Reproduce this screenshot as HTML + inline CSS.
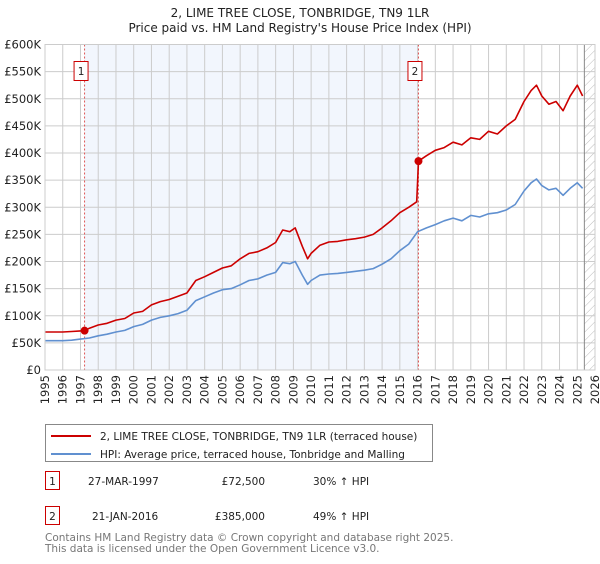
<!DOCTYPE html>
<html><head><meta charset="utf-8"><style>
body{margin:0;background:#fff;font-family:"DejaVu Sans","Liberation Sans",sans-serif;}
svg text{font-family:"DejaVu Sans","Liberation Sans",sans-serif;}
</style></head><body>
<svg id="c" width="600" height="560" xmlns="http://www.w3.org/2000/svg">
<text x="300" y="17" text-anchor="middle" font-size="12" fill="#222">2, LIME TREE CLOSE, TONBRIDGE, TN9 1LR</text>
<text x="300" y="32" text-anchor="middle" font-size="12" fill="#222">Price paid vs. HM Land Registry's House Price Index (HPI)</text>
<defs><pattern id="hatch" width="6" height="6" patternUnits="userSpaceOnUse" patternTransform="rotate(45)"><line x1="0" y1="0" x2="0" y2="6" stroke="#bbb" stroke-width="1"/></pattern></defs>
<g id="plot"></g>
<g>
<rect x="45.5" y="424.5" width="387" height="37" fill="#fff" stroke="#888"/>
<line x1="51" y1="436" x2="91" y2="436" stroke="#cc0000" stroke-width="2"/>
<text x="100" y="440" font-size="10.5" fill="#222">2, LIME TREE CLOSE, TONBRIDGE, TN9 1LR (terraced house)</text>
<line x1="51" y1="454" x2="91" y2="454" stroke="#6090d0" stroke-width="2"/>
<text x="100" y="458" font-size="10.5" fill="#222">HPI: Average price, terraced house, Tonbridge and Malling</text>
</g>
<g font-size="10.5" fill="#222">
<rect x="45.5" y="471.5" width="14" height="18" fill="#fff" stroke="#cc0000"/>
<text x="52.5" y="485" text-anchor="middle">1</text>
<text x="88" y="485">27-MAR-1997</text>
<text x="265" y="485" text-anchor="end">£72,500</text>
<text x="313" y="485">30% ↑ HPI</text>
<rect x="45.5" y="506.5" width="14" height="18" fill="#fff" stroke="#cc0000"/>
<text x="52.5" y="520" text-anchor="middle">2</text>
<text x="92" y="520">21-JAN-2016</text>
<text x="265" y="520" text-anchor="end">£385,000</text>
<text x="313" y="520">49% ↑ HPI</text>
</g>
<text x="45" y="541" font-size="10.5" fill="#777">Contains HM Land Registry data © Crown copyright and database right 2025.</text>
<text x="45" y="552" font-size="10.5" fill="#777">This data is licensed under the Open Government Licence v3.0.</text>
</svg>
<script>
const yTicks=[0,50,100,150,200,250,300,350,400,450,500,550,600];
const yLabels=["£0","£50K","£100K","£150K","£200K","£250K","£300K","£350K","£400K","£450K","£500K","£550K","£600K"];
const xYears=[1995,1996,1997,1998,1999,2000,2001,2002,2003,2004,2005,2006,2007,2008,2009,2010,2011,2012,2013,2014,2015,2016,2017,2018,2019,2020,2021,2022,2023,2024,2025,2026];
const hpiX=[1995,1995.5,1996,1996.5,1997,1997.5,1998,1998.5,1999,1999.5,
 2000,2000.5,2001,2001.5,2002,2002.5,2003,2003.5,2004,2004.5,
 2005,2005.5,2006,2006.5,2007,2007.5,2008,2008.4,2008.8,2009.1,
 2009.5,2009.8,2010,2010.5,2011,2011.5,2012,2012.5,2013,2013.5,
 2014,2014.5,2015,2015.5,2016,2016.5,2017,2017.5,2018,2018.5,
 2019,2019.5,2020,2020.5,2021,2021.5,2022,2022.4,2022.7,2023,
 2023.4,2023.8,2024.2,2024.6,2025,2025.3];
const hpiY=[54,54,54,55,57,59,63,66,70,73,
 80,84,92,97,100,104,110,128,135,142,
 148,150,157,165,168,175,180,198,196,200,
 175,158,165,175,177,178,180,182,184,187,
 195,205,220,232,255,262,268,275,280,275,
 285,282,288,290,295,305,330,345,352,340,
 332,335,322,335,345,335];
const priceX=[1995,1995.5,1996,1996.5,1997,1997.23,1997.5,1998,1998.5,1999,
 1999.5,2000,2000.5,2001,2001.5,2002,2002.5,2003,2003.5,2004,
 2004.5,2005,2005.5,2006,2006.5,2007,2007.5,2008,2008.4,2008.8,
 2009.1,2009.5,2009.8,2010,2010.5,2011,2011.5,2012,2012.5,2013,
 2013.5,2014,2014.5,2015,2015.5,2015.95,2016.05,2016.5,2017,2017.5,
 2018,2018.5,2019,2019.5,2020,2020.5,2021,2021.5,2022,2022.4,
 2022.7,2023,2023.4,2023.8,2024.2,2024.6,2025,2025.3];
const priceY=[70,70,70,71,72,72.5,77,83,86,92,
 95,105,108,120,126,130,136,142,165,172,
 180,188,192,205,215,218,225,235,258,255,
 262,228,205,215,230,236,237,240,242,245,
 250,262,275,290,300,310,385,395,405,410,
 420,415,428,425,440,435,450,462,495,515,
 525,505,490,495,478,505,525,505];
const saleYears=[1997.23,2016.05];
const salePrices=[72.5,385];
</script>
<script>
const NS="http://www.w3.org/2000/svg";
const X0=45,X1=595,Y0=370,Y1=44.5;
const xs=yr=>X0+(yr-1995)*(X1-X0)/31;
const ys=v=>Y0-v*(Y0-Y1)/600;
const g=document.getElementById('plot');
function mk(t,a){const e=document.createElementNS(NS,t);for(const k in a)e.setAttribute(k,a[k]);g.appendChild(e);return e;}
const sale1=saleYears[0],sale2=saleYears[1];
let r=mk('rect',{x:xs(sale1),y:Y1,width:xs(sale2)-xs(sale1),height:Y0-Y1,fill:'#eef3fc',opacity:0.75});


let h=mk('rect',{x:xs(2025.4),y:Y1,width:X1-xs(2025.4),height:Y0-Y1,fill:'url(#hatch)'});


yTicks.forEach((v,i)=>{
 let l=mk('line',{x1:X0,x2:X1,y1:ys(v),y2:ys(v),stroke:'#ccc','stroke-width':1});
 
 
 let t=mk('text',{x:X0-4,y:ys(v)+4,'text-anchor':'end','font-size':11.5,fill:'#222'});
 t.textContent=yLabels[i];
 
 
});
xYears.forEach(yr=>{
 let l=mk('line',{x1:xs(yr),x2:xs(yr),y1:Y1,y2:Y0,stroke:'#ccc','stroke-width':1});
 
 
 let t=mk('text',{x:0,y:0,'text-anchor':'end','font-size':11.5,fill:'#222',transform:`translate(${xs(yr)+4},${Y0+5}) rotate(-90)`});
 t.textContent=yr;
 
 
});
mk('line',{x1:xs(2025.4),x2:xs(2025.4),y1:Y1,y2:Y0,stroke:'#888','stroke-width':1});
saleYears.forEach((s,i)=>{
 let l=mk('line',{x1:xs(s),x2:xs(s),y1:Y1,y2:Y0,stroke:'#dd5555','stroke-width':1,'stroke-dasharray':'2,2'});
 
 
 let b=mk('rect',{x:xs(s)-10.5,y:61.5,width:14,height:19,fill:'#fff',stroke:'#cc0000'});
 
 
 let t=mk('text',{x:xs(s)-3.5,y:75,'text-anchor':'middle','font-size':10.5,fill:'#222'});
 t.textContent=String(i+1);
 
 
});
function path(xa,ya){const n=Math.min(xa.length,ya.length);let d='';for(let i=0;i<n;i++)d+=(i?'L':'M')+xs(xa[i]).toFixed(1)+','+ys(ya[i]).toFixed(1);return d;}
let hp=mk('path',{d:path(hpiX,hpiY),fill:'none',stroke:'#6090d0','stroke-width':1.6,'stroke-linejoin':'round'});


let pp=mk('path',{d:path(priceX,priceY),fill:'none',stroke:'#cc0000','stroke-width':1.6,'stroke-linejoin':'round'});


saleYears.forEach((s,i)=>{
 let c=mk('circle',{cx:xs(s),cy:ys(salePrices[i]),r:4,fill:'#cc0000'});
 
 
});
let fr=mk('rect',{x:X0,y:Y1,width:X1-X0,height:Y0-Y1,fill:'none',stroke:'#ccc'});


</script>
</body></html>
